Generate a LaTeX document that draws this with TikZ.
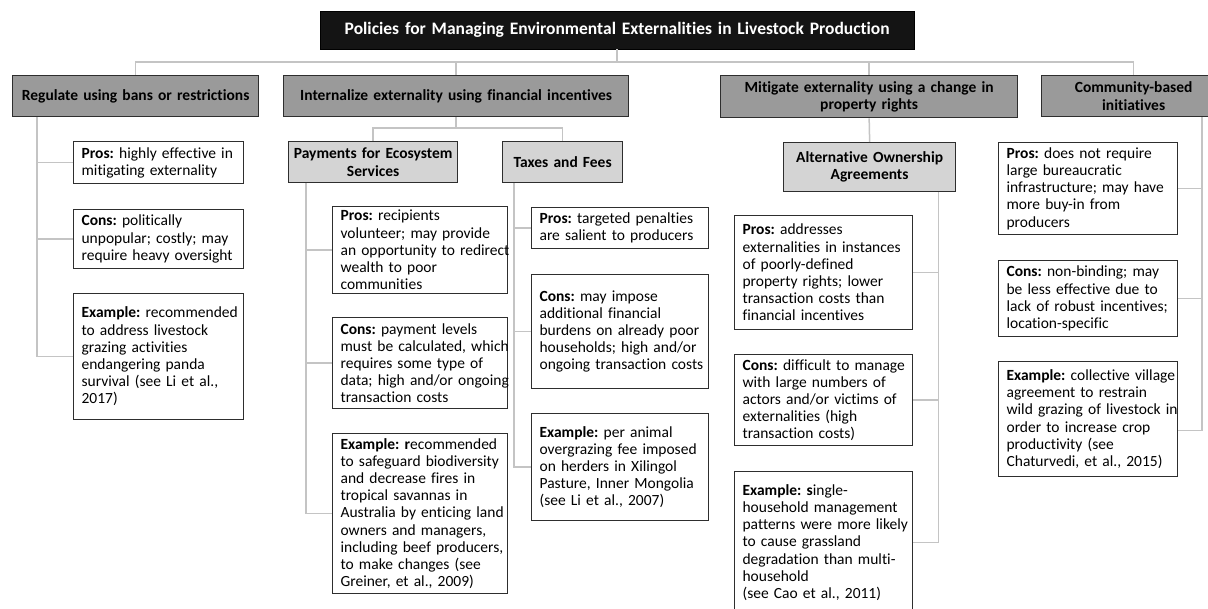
\documentclass[tikz,border=0pt]{standalone}
\usepackage{fontspec}
\setmainfont{Carlito}[Ligatures={NoCommon}]
\usetikzlibrary{calc}
\definecolor{hdrgray}{HTML}{9A9A9A}
\definecolor{subgray}{HTML}{D4D4D4}
\definecolor{linkgray}{HTML}{C4C4C4}
\definecolor{edgegray}{HTML}{2E2E2E}
\newcommand{\bodyfont}{\fontsize{15.5pt}{17.2pt}\selectfont}
\newcommand{\titlefont}{\fontsize{17.5pt}{20pt}\selectfont}
\begin{document}
\frenchspacing
\begin{tikzpicture}[x=1pt,y=-1pt,
  conn/.style={draw=linkgray, line width=1.5pt},
  ttl/.style={fill=black!92, draw=black, text=white, font=\bfseries\titlefont,
    align=center, inner sep=0pt, anchor=north west},
  lvone/.style={fill=hdrgray, draw=edgegray, line width=1.3pt, font=\bfseries\bodyfont,
    align=center, inner sep=0pt, anchor=north west},
  lvtwo/.style={fill=subgray, draw=edgegray, line width=1.3pt, font=\bfseries\bodyfont,
    align=center, inner sep=0pt, anchor=north west},
  info/.style={fill=white, draw=edgegray, line width=1.2pt, font=\bodyfont,
    align=left, inner sep=0pt, anchor=north west,
    execute at begin node={\leftskip=8pt\rightskip=-4pt plus 1fil\relax}},
]
\useasboundingbox (0,0) rectangle (1208,609);
\clip (0,0) rectangle (1208,609);
\fill[white] (0,0) rectangle (1208,609);

% title and the four policy families
\node[ttl, text width=594pt, minimum height=38pt] (title) at (320,11)
  {Policies for Managing Environmental Externalities in Livestock Production};
\node[lvone, text width=246pt, minimum height=41pt] (reg) at (12,75)
  {Regulate using bans or restrictions};
\node[lvone, text width=345pt, minimum height=41pt] (int) at (283,75)
  {Internalize externality using financial incentives};
\node[lvone, text width=297pt, minimum height=42pt] (mit) at (720,75)
  {Mitigate externality using a change in\\property rights};
\node[lvone, text width=184pt, minimum height=41pt] (com) at (1041,75)
  {Community-based\\initiatives};

% sub-instruments
\node[lvtwo, text width=169pt, minimum height=41pt] (pes) at (288,141)
  {Payments for Ecosystem\\Services};
\node[lvtwo, text width=120pt, minimum height=41pt] (tax) at (502,141)
  {Taxes and Fees};
\node[lvtwo, text width=172pt, minimum height=49pt] (aoa) at (783,142)
  {Alternative Ownership\\Agreements};

% bans or restrictions
\node[info, text width=170pt, minimum height=42pt] (regpro) at (73,141)
  {\textbf{Pros:} highly effective in\\mitigating externality};
\node[info, text width=170pt, minimum height=59pt] (regcon) at (73,209)
  {\textbf{Cons:} politically\\unpopular; costly; may\\require heavy oversight};
\node[info, text width=170pt, minimum height=126pt] (regex) at (73,293)
  {\textbf{Example:} recommended\\to address livestock\\grazing activities\\endangering panda\\survival (see Li et al.,\\2017)};

% payments for ecosystem services
\node[info, text width=175pt, minimum height=87pt] (pespro) at (332,206)
  {\textbf{Pros:} recipients\\volunteer; may provide\\an opportunity to redirect\\wealth to poor\\communities};
\node[info, text width=175pt, minimum height=91pt] (pescon) at (332,317)
  {\textbf{Cons:} payment levels\\must be calculated, which\\requires some type of\\data; high and/or ongoing\\transaction costs};
\node[info, text width=175pt, minimum height=160pt] (pesex) at (332,433)
  {\textbf{Example: r}ecommended\\to safeguard biodiversity\\and decrease fires in\\tropical savannas in\\Australia by enticing land\\owners and managers,\\including beef producers,\\to make changes (see\\Greiner, et al., 2009)};

% taxes and fees
\node[info, text width=177pt, minimum height=41pt] (taxpro) at (531,207)
  {\textbf{Pros:} targeted penalties\\are salient to producers};
\node[info, text width=177pt, minimum height=114pt] (taxcon) at (531,274)
  {\textbf{Cons:} may impose\\additional financial\\burdens on already poor\\households; high and/or\\ongoing transaction costs};
\node[info, text width=177pt, minimum height=107pt] (taxex) at (531,413)
  {\textbf{Example:} per animal\\overgrazing fee imposed\\on herders in Xilingol\\Pasture, Inner Mongolia\\(see Li et al., 2007)};

% alternative ownership agreements
\node[info, text width=178pt, minimum height=114pt] (aoapro) at (734,215)
  {\textbf{Pros:} addresses\\externalities in instances\\of poorly-defined\\property rights; lower\\transaction costs than\\financial incentives};
\node[info, text width=178pt, minimum height=91pt] (aoacon) at (734,354)
  {\textbf{Cons:} difficult to manage\\with large numbers of\\actors and/or victims of\\externalities (high\\transaction costs)};
\node[info, text width=178pt, minimum height=142pt] (aoaex) at (734,471)
  {\textbf{Example: s}ingle-\\household management\\patterns were more likely\\to cause grassland\\degradation than multi-\\household\\(see Cao et al., 2011)};

% community-based initiatives
\node[info, text width=179pt, minimum height=92pt] (compro) at (998,142)
  {\textbf{Pros:} does not require\\large bureaucratic\\infrastructure; may have\\more buy-in from\\producers};
\node[info, text width=179pt, minimum height=76pt] (comcon) at (998,260)
  {\textbf{Cons:} non-binding; may\\be less effective due to\\lack of robust incentives;\\location-specific};
\node[info, text width=179pt, minimum height=115pt] (comex) at (998,361)
  {\textbf{Example:} collective village\\agreement to restrain\\wild grazing of livestock in\\order to increase crop\\productivity (see\\Chaturvedi, et al., 2015)};

% top-level tree
\coordinate (bus) at (617,62);
\coordinate (subbus) at (455,128);
\draw[conn] (title.south) -- (title.south |- bus);
\draw[conn] (reg.north) -- (reg.north |- bus) -- (com.north |- bus) -- (com.north);
\draw[conn] (int.north) -- (int.north |- bus);
\draw[conn] (mit.north) -- (mit.north |- bus);
\draw[conn] (int.south) -- (int.south |- subbus);
\draw[conn] (pes.north) -- (pes.north |- subbus) -- (tax.north |- subbus) -- (tax.north);
\draw[conn] (mit.south) -- (aoa.north);

% side rails to the pros / cons / example boxes
\path ([xshift=25pt]reg.south west) coordinate (regv);
\draw[conn] (regv) |- (regex.west);
\draw[conn] (regv |- regpro.west) -- (regpro.west);
\draw[conn] (regv |- regcon.west) -- (regcon.west);

\path ([xshift=18pt]pes.south west) coordinate (pesv);
\draw[conn] (pesv) |- (pesex.west);
\draw[conn] (pesv |- pespro.west) -- (pespro.west);
\draw[conn] (pesv |- pescon.west) -- (pescon.west);

\path ([xshift=12pt]tax.south west) coordinate (taxv);
\draw[conn] (taxv) |- (taxex.west);
\draw[conn] (taxv |- taxpro.west) -- (taxpro.west);
\draw[conn] (taxv |- taxcon.west) -- (taxcon.west);

\path ([xshift=-18pt]aoa.south east) coordinate (aoav);
\draw[conn] (aoav) |- (aoaex.east);
\draw[conn] (aoav |- aoapro.east) -- (aoapro.east);
\draw[conn] (aoav |- aoacon.east) -- (aoacon.east);

\path ([xshift=161pt]com.south west) coordinate (comv);
\path ([yshift=-11.5pt]comex.east) coordinate (comexlink);
\draw[conn] (comv) |- (comexlink);
\draw[conn] (comv |- compro.east) -- (compro.east);
\draw[conn] (comv |- comcon.east) -- (comcon.east);
\end{tikzpicture}
\end{document}
